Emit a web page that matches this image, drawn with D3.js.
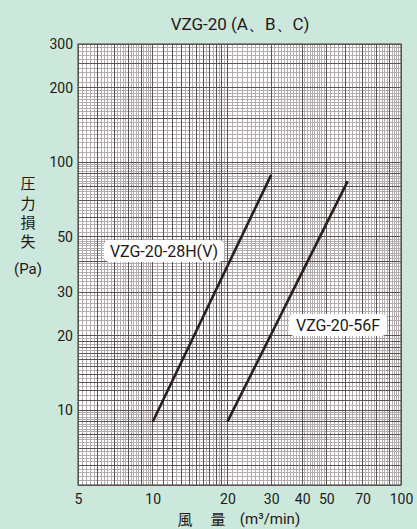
<!DOCTYPE html>
<html><head><meta charset="utf-8">
<script src="https://cdn.jsdelivr.net/npm/d3@7"></script>
<style>
html,body{margin:0;padding:0;background:#cce8dd;}
svg{display:block;}
text{font-family:"Liberation Sans Narrow","Roboto","Liberation Sans",sans-serif;fill:#231815;}
</style></head>
<body><div id="chart"></div>
<script>
const title = "VZG-20 (A、B、C)";
const xTickValues = [5, 10, 20, 30, 40, 50, 70, 100];
const yTickLabelValues = [300, 200, 100, 50, 30, 20, 10];
const seriesNames = ["VZG-20-28H(V)", "VZG-20-56F"];
const series28H = [[10, 9], [30, 89]];
const series56F = [[20, 9], [61, 84]];
const yTitleChars = ["圧", "力", "損", "失"];
const yUnit = "(Pa)";
const xTitle = ["風", "量", "(m³/min)"];

const W = 417, H = 529;
const m = {l: 78, r: 401, t: 44, b: 485};
const svg = d3.select("#chart").append("svg").attr("width", W).attr("height", H);
const x = d3.scaleLog().domain([5, 100]).range([m.l, m.r]);
const y = d3.scaleLog().domain([5, 300]).range([m.b, m.t]);

svg.append("rect").attr("x", m.l).attr("y", m.t).attr("width", m.r - m.l).attr("height", m.b - m.t).attr("fill", "#fff");

function gridVals(segs) {
  const minor = [], major = [];
  segs.forEach(([a, b, step, majStep]) => {
    const n = Math.round((b - a) / step);
    for (let i = 0; i <= n; i++) {
      const v = +(a + i * step).toFixed(4);
      const isMaj = Math.abs(v / majStep - Math.round(v / majStep)) < 1e-6;
      (isMaj ? major : minor).push(v);
    }
  });
  return {minor: [...new Set(minor)], major: [...new Set(major)]};
}
const gx = gridVals([[5, 10, 0.2, 1], [10, 20, 0.5, 1], [20, 50, 1, 10], [50, 100, 2, 10]]);
const gy = gridVals([[5, 10, 0.2, 1], [10, 20, 0.5, 1], [20, 50, 1, 10], [50, 100, 2, 10], [100, 200, 5, 100], [200, 300, 10, 100]]);
const gxDark = gx.major.concat([30, 40, 50, 60, 70, 80, 90]);
const gyDark = gy.major.concat([30, 40, 50, 60, 70, 80, 90, 150, 250]);

const grid = svg.append("g").attr("shape-rendering", "crispEdges");
const light = "#b2acac", dark = "#5d5252";
grid.selectAll("line.vx").data(gx.minor).join("line")
  .attr("x1", d => x(d)).attr("x2", d => x(d)).attr("y1", m.t).attr("y2", m.b)
  .attr("stroke", light).attr("stroke-width", 1);
grid.selectAll("line.hy").data(gy.minor).join("line")
  .attr("y1", d => y(d)).attr("y2", d => y(d)).attr("x1", m.l).attr("x2", m.r)
  .attr("stroke", light).attr("stroke-width", 1);
grid.append("g").selectAll("line").data(gxDark).join("line")
  .attr("x1", d => x(d)).attr("x2", d => x(d)).attr("y1", m.t).attr("y2", m.b)
  .attr("stroke", dark).attr("stroke-width", 1);
grid.append("g").selectAll("line").data(gyDark).join("line")
  .attr("y1", d => y(d)).attr("y2", d => y(d)).attr("x1", m.l).attr("x2", m.r)
  .attr("stroke", dark).attr("stroke-width", 1);
svg.append("rect").attr("x", m.l).attr("y", m.t).attr("width", m.r - m.l).attr("height", m.b - m.t)
  .attr("fill", "none").attr("stroke", dark).attr("stroke-width", 1.2);

const xAxis = d3.axisBottom(x).tickValues(xTickValues).tickFormat(d3.format("d")).tickSize(0).tickPadding(9);
const gxa = svg.append("g").attr("transform", `translate(0,${m.b})`).call(xAxis);
gxa.select(".domain").remove();
gxa.selectAll("text").attr("font-size", 14).attr("font-family", null).attr("fill", "#231815");
const yAxis = d3.axisLeft(y).tickValues(yTickLabelValues).tickFormat(d3.format("d")).tickSize(0).tickPadding(5);
const gya = svg.append("g").attr("transform", `translate(${m.l},0)`).call(yAxis);
gya.select(".domain").remove();
gya.selectAll("text").attr("font-size", 14).attr("font-family", null).attr("fill", "#231815");

const lineGen = d3.line().x(d => x(d[0])).y(d => y(d[1]));
[series28H, series56F].forEach(s => {
  svg.append("path").datum(s).attr("d", lineGen).attr("fill", "none")
    .attr("stroke", "#2a1d1d").attr("stroke-width", 2.6);
});

function label(txt, cx, cy, w) {
  const g = svg.append("g");
  g.append("rect").attr("x", cx - w / 2).attr("y", cy - 11).attr("width", w).attr("height", 22)
    .attr("rx", 5).attr("fill", "#fff");
  g.append("text").attr("x", cx).attr("y", cy + 6).attr("text-anchor", "middle")
    .attr("font-size", 16).text(txt);
}
label(seriesNames[0], 164, 251, 120);
label(seriesNames[1], 338, 325, 98);

svg.append("text").attr("x", 240).attr("y", 30).attr("text-anchor", "middle").attr("font-size", 17).text(title);

const yTitleY = [183, 203, 222, 241];
yTitleChars.forEach((c, i) => {
  svg.append("text").attr("x", 28).attr("y", yTitleY[i] + 6).attr("text-anchor", "middle")
    .attr("font-size", 15).style("font-family", "'Noto Sans CJK JP',sans-serif").text(c);
});
svg.append("text").attr("x", 28).attr("y", 274).attr("text-anchor", "middle").attr("font-size", 15).text(yUnit);

svg.append("text").attr("x", 185).attr("y", 525).attr("text-anchor", "middle").attr("font-size", 15)
  .style("font-family", "'Noto Sans CJK JP',sans-serif").text(xTitle[0]);
svg.append("text").attr("x", 218).attr("y", 525).attr("text-anchor", "middle").attr("font-size", 15)
  .style("font-family", "'Noto Sans CJK JP',sans-serif").text(xTitle[1]);
svg.append("text").attr("x", 270).attr("y", 524).attr("text-anchor", "middle").attr("font-size", 15).text(xTitle[2]);
</script></body></html>
